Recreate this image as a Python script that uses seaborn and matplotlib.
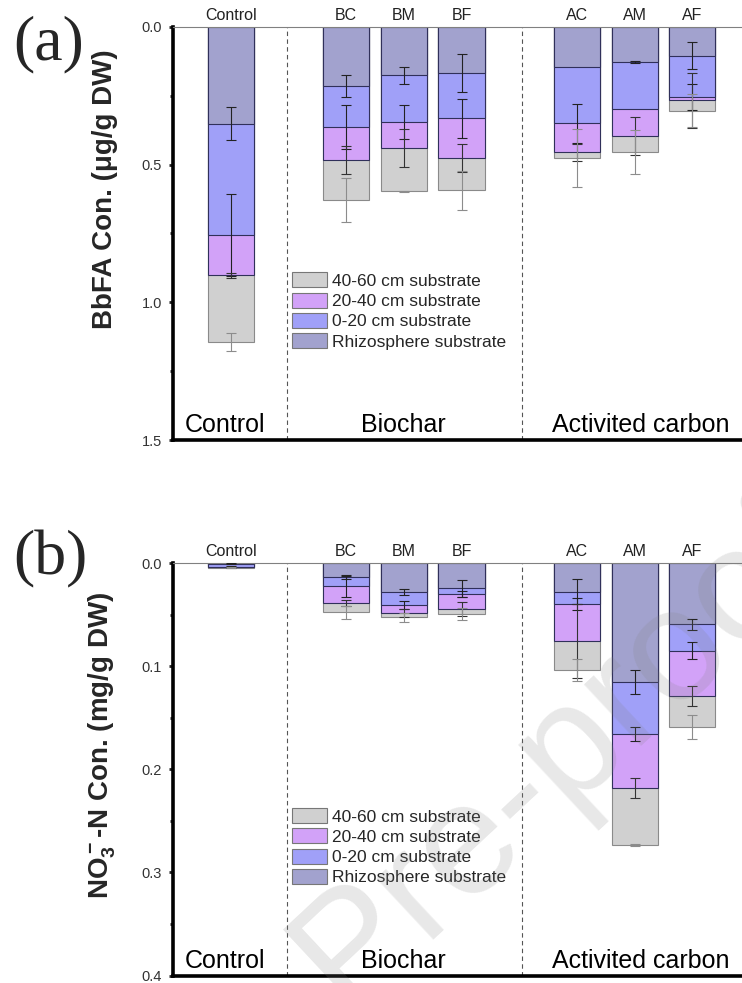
"""
Stacked bars of BbFA and NO3-N content in substrate layers, by treatment
"""
import numpy as np
import pandas as pd
import matplotlib
matplotlib.use('Agg')
import matplotlib.pyplot as plt
import matplotlib.patches as mpatches
from matplotlib.ticker import MultipleLocator, FormatStrFormatter
import seaborn as sns

treatments = ['Control', 'BC', 'BM', 'BF', 'AC', 'AM', 'AF']
groups = ['Control', 'Biochar', 'Activited carbon']
layers = ['Rhizosphere substrate', '0-20 cm substrate', '20-40 cm substrate', '40-60 cm substrate']

# (a) BbFA, ug/g DW, thickness of each layer in the stack
bbfa_rhizo = [0.352, 0.214, 0.176, 0.167, 0.144, 0.127, 0.104]
bbfa_0_20 = [0.404, 0.150, 0.169, 0.165, 0.206, 0.170, 0.150]
bbfa_20_40 = [0.146, 0.120, 0.095, 0.143, 0.105, 0.099, 0.012]
bbfa_40_60 = [0.243, 0.146, 0.157, 0.118, 0.021, 0.059, 0.039]
bbfa_err_rhizo = [0.060, 0.040, 0.030, 0.070, 0.000, 0.005, 0.050]
bbfa_err_0_20 = [0.150, 0.080, 0.060, 0.070, 0.070, 0.000, 0.047]
bbfa_err_20_40 = [0.010, 0.050, 0.068, 0.050, 0.030, 0.070, 0.100]
bbfa_err_40_60 = [0.033, 0.080, 0.003, 0.070, 0.106, 0.080, 0.060]

# (b) NO3-N, mg/g DW
no3_rhizo = [0.0005, 0.0130, 0.0278, 0.0245, 0.0278, 0.1152, 0.0594]
no3_0_20 = [0.0030, 0.0096, 0.0129, 0.0055, 0.0116, 0.0507, 0.0255]
no3_20_40 = [0.0005, 0.0161, 0.0077, 0.0145, 0.0361, 0.0521, 0.0439]
no3_40_60 = [0.0002, 0.0091, 0.0042, 0.0049, 0.0281, 0.0557, 0.0302]
no3_err_rhizo = [0.0005, 0.0020, 0.0030, 0.0080, 0.0120, 0.0116, 0.0055]
no3_err_0_20 = [0.0005, 0.0100, 0.0040, 0.0030, 0.0060, 0.0070, 0.0080]
no3_err_20_40 = [0.0005, 0.0030, 0.0040, 0.0070, 0.0360, 0.0100, 0.0100]
no3_err_40_60 = [0.0005, 0.0060, 0.0040, 0.0060, 0.0110, 0.0010, 0.0115]

layer_colors = ['#A2A2CE', '#A0A0F8', '#D2A2F8', '#D0D0D0']
edge_colors = ['#30305A', '#30305A', '#30305A', '#8A8A8A']
err_colors = ['#222222', '#222222', '#333333', '#8C8C8C']

# empty slots between the groups
order = ['Control', ' ', 'BC', 'BM', 'BF', '  ', 'AC', 'AM', 'AF']

sns.set_theme(style='white')
plt.rcParams['font.family'] = ['Liberation Sans', 'DejaVu Sans']
plt.rcParams['mathtext.default'] = 'regular'

W, H = 742, 983
fig = plt.figure(figsize=(W / 100, H / 100), dpi=100)


def draw_panel(ax, values, errors, ymax, major, ylabel, label_y, letter):
    df = pd.DataFrame(np.array(values).T, index=treatments, columns=layers)
    cum = df.cumsum(axis=1)

    # deepest layer first, shallower layers painted on top
    for i in reversed(range(len(layers))):
        sns.barplot(x=treatments, y=cum.iloc[:, i].values, order=order,
                    color=layer_colors[i], saturation=1, width=0.8,
                    edgecolor=edge_colors[i], linewidth=0.8, ax=ax)

    xpos = np.array([order.index(t) for t in treatments])
    for i in range(len(layers)):
        err = np.array(errors[i])
        keep = err > 0
        ax.errorbar(xpos[keep], cum.iloc[:, i].values[keep], yerr=err[keep],
                    fmt='none', ecolor=err_colors[i], elinewidth=0.8,
                    capsize=3.5, capthick=0.8, zorder=5)

    ax.axvline(0.97, color='#555555', ls=(0, (4, 3)), lw=0.8, zorder=1)
    ax.axvline(5.05, color='#555555', ls=(0, (4, 3)), lw=0.8, zorder=1)

    ax.set_ylim(ymax, 0)
    ax.set_xlim(-1.0, 8.86)

    ax.yaxis.set_major_locator(MultipleLocator(major))
    ax.yaxis.set_minor_locator(MultipleLocator(major / 2))
    ax.yaxis.set_major_formatter(FormatStrFormatter('%.1f'))
    ax.tick_params(axis='y', which='major', direction='out', length=3, width=2,
                   labelsize=10.5, labelcolor='#333333', pad=5, left=True)
    ax.tick_params(axis='y', which='minor', direction='out', length=2, width=2,
                   left=True)

    ax.xaxis.tick_top()
    ax.set_xticks(range(len(order)))
    ax.set_xticklabels(order)
    ax.tick_params(axis='x', length=0, labelsize=11.5, labelcolor='#222222', pad=3)
    ax.set_xlabel('')

    ax.set_ylabel(ylabel, fontsize=20, fontweight='bold')
    ax.yaxis.set_label_coords(-0.097, label_y)

    for side in ['left', 'bottom']:
        ax.spines[side].set_linewidth(2.6)
        ax.spines[side].set_color('black')
    ax.spines['top'].set_linewidth(0.8)
    ax.spines['top'].set_color('#808080')
    ax.spines['right'].set_visible(False)

    for name, x in zip(groups, [-0.1, 3.0, 7.1]):
        ax.text(x, 0.036, name, transform=ax.get_xaxis_transform(),
                ha='center', va='center', fontsize=18, color='black')

    handles = [mpatches.Patch(facecolor=layer_colors[i], edgecolor='#777777',
                              linewidth=0.8, label=layers[i])
               for i in reversed(range(len(layers)))]
    ax.legend(handles=handles, loc='upper left', bbox_to_anchor=(0.209, 0.406),
              frameon=False, fontsize=12.5, handlelength=2.0, handleheight=0.95,
              handletextpad=0.3, labelspacing=0.22, borderpad=0, borderaxespad=0)

    fig.text(13 / W, letter[1], letter[0], fontsize=46, family='Liberation Serif',
             ha='left', va='center')


left = 173 / W
width = 1 - left
ax_a = fig.add_axes([left, 1 - 440 / H, width, 413 / H])
draw_panel(ax_a,
           [bbfa_rhizo, bbfa_0_20, bbfa_20_40, bbfa_40_60],
           [bbfa_err_rhizo, bbfa_err_0_20, bbfa_err_20_40, bbfa_err_40_60],
           1.5, 0.5, 'BbFA Con. (μg/g DW)', 0.608, ('(a)', 1 - 44 / H))

ax_b = fig.add_axes([left, 1 - 975.5 / H, width, 412.3 / H])
draw_panel(ax_b,
           [no3_rhizo, no3_0_20, no3_20_40, no3_40_60],
           [no3_err_rhizo, no3_err_0_20, no3_err_20_40, no3_err_40_60],
           0.4, 0.1, r'NO$_3^-$-N Con. (mg/g DW)', 0.557, ('(b)', 1 - 559 / H))

# journal watermark
fig.text(345 / W, 1 - 1010 / H, 'Pre-proof', rotation=43, fontsize=115,
         color='#808080', alpha=0.18, ha='left', va='baseline', zorder=10,
         rotation_mode='anchor')

fig.savefig('out.png', dpi=100)
